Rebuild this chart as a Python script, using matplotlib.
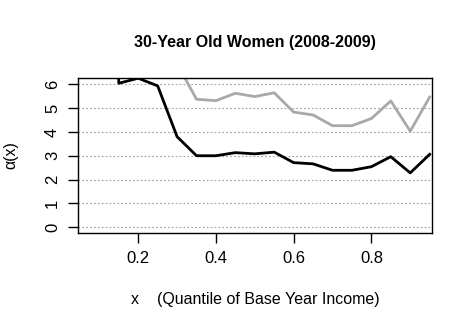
import matplotlib
matplotlib.use('Agg')
import matplotlib.pyplot as plt

plt.rcParams['font.family'] = ['Liberation Sans', 'DejaVu Sans']

x = [0.10, 0.15, 0.20, 0.25, 0.30, 0.35, 0.40, 0.45, 0.50, 0.55,
     0.60, 0.65, 0.70, 0.75, 0.80, 0.85, 0.90, 0.95]
alpha_black = [30.0, 6.04, 6.25, 5.93, 3.80, 3.00, 3.00, 3.13, 3.08, 3.15,
               2.71, 2.66, 2.39, 2.39, 2.54, 2.96, 2.28, 3.06]
alpha_gray = [12.0, 10.0, 9.0, 8.0, 6.85, 5.37, 5.31, 5.62, 5.48, 5.64,
              4.83, 4.71, 4.26, 4.26, 4.56, 5.30, 4.03, 5.46]
xticks = [0.2, 0.4, 0.6, 0.8]
yticks = [0, 1, 2, 3, 4, 5, 6]

fig = plt.figure(figsize=(4.72, 3.31), dpi=100)
ax = fig.add_axes([78/472, 1 - 233/331, (432-78)/472, (233-78)/331])

for yv in yticks:
    ax.axhline(yv, color='#A0A0A0', lw=0.8, ls=(0, (1.5, 2)), zorder=1)

ax.plot(x, alpha_gray, color='#A9A9A9', lw=2, zorder=2)
ax.plot(x, alpha_black, color='black', lw=2, zorder=3)

ax.set_xlim(0.045, 0.956)
ax.set_ylim(-0.24, 6.26)
ax.set_xticks(xticks)
ax.set_xticklabels(['0.2', '0.4', '0.6', '0.8'])
ax.set_yticks(yticks)
ax.set_yticklabels([str(v) for v in yticks], rotation=90, va='center')
ax.tick_params(direction='out', length=7, width=1, labelsize=12, pad=6)
for s in ax.spines.values():
    s.set_linewidth(1)

ax.set_title('30-Year Old Women (2008-2009)', fontsize=11.5, fontweight='bold', pad=22)
ax.set_xlabel('x    (Quantile of Base Year Income)', fontsize=11.5, labelpad=19)
ax.set_ylabel('α(x)', fontsize=11.5, labelpad=19)

fig.savefig('out.png', dpi=100)
